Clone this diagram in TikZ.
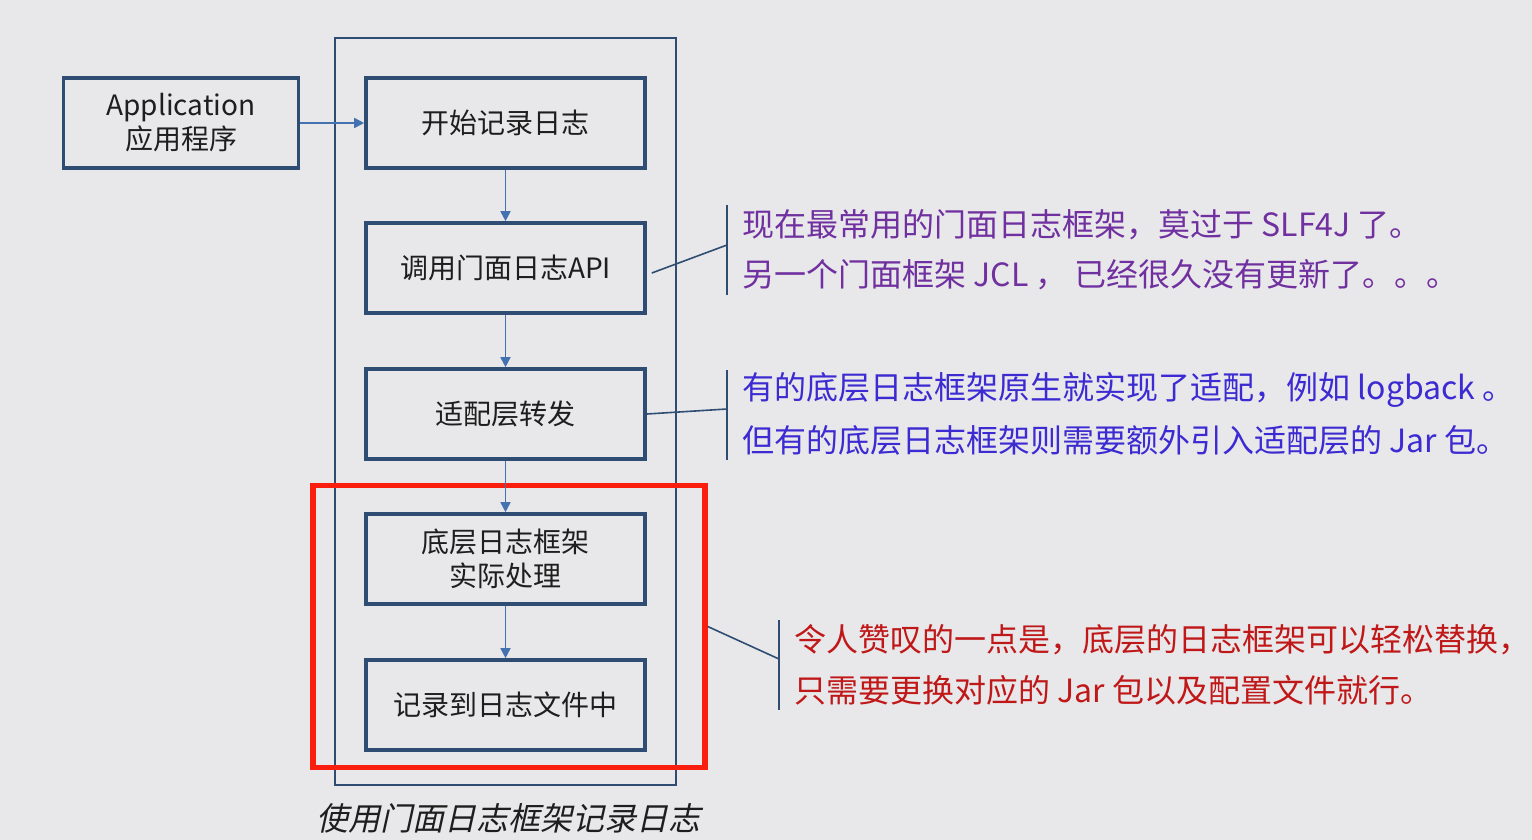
\documentclass[tikz,border=0pt]{standalone}
\usepackage{fontspec}
\setmainfont{Noto Sans CJK SC}
\newfontfamily\capfont[FakeSlant=0.22]{Noto Sans CJK SC}
\usetikzlibrary{arrows.meta}
\definecolor{bg}{HTML}{E8E8EA}
\definecolor{boxblue}{HTML}{2F4D73}
\definecolor{arrowblue}{HTML}{4472B0}
\definecolor{notepurple}{HTML}{7030A0}
\definecolor{noteblue}{HTML}{3C2AD2}
\definecolor{notered}{HTML}{C01818}
\definecolor{framered}{HTML}{FA1E0E}
\definecolor{ink}{HTML}{1E1E1E}

\begin{document}
\begin{tikzpicture}[x=0.5pt, y=-0.5pt,
    stepbox/.style={draw=boxblue, line width=1.8pt, minimum width=139.5pt, minimum height=45pt,
        inner sep=0pt, align=center, text=ink, font=\fontsize{14}{17}\selectfont},
    flow/.style={draw=arrowblue, line width=0.8pt, -{Triangle[length=5pt, width=5pt]}},
    brace/.style={draw=boxblue, line width=0.8pt},
    note/.style={anchor=west, inner sep=0pt, font=\fontsize{16}{20}\selectfont}]
    \fill[bg] (0,0) rectangle (1532,840);
    \useasboundingbox (0,0) rectangle (1532,840);

    % outer frame
    \node[draw=boxblue, line width=0.8pt, minimum width=170.5pt, minimum height=373.5pt] (frame) at (505.5,411.5) {};

    \node[stepbox, minimum width=117.5pt] (app) at (181,123) {Application\\应用程序};
    \node[stepbox] (s1) at (505.5,123) {开始记录日志};
    \node[stepbox] (s2) at (505.5,268) {调用门面日志API};
    \node[stepbox] (s3) at (505.5,414) {适配层转发};
    \node[stepbox] (s4) at (505.5,559) {底层日志框架\\实际处理};
    \node[stepbox] (s5) at (505.5,705) {记录到日志文件中};

    % highlight
    \node[draw=framered, line width=2.7pt, minimum width=196pt, minimum height=141pt] (focus) at (509,626.5) {};

    \draw[flow] (app) -- (s1);
    \foreach \a/\b in {s1/s2, s2/s3, s3/s4, s4/s5}
    \draw[flow] (\a) -- (\b);

    % notes
    \coordinate (b1t) at (727,205);
    \coordinate (b1b) at (727,295);
    \coordinate (b1m) at (727,245);
    \coordinate (b2t) at (727,370);
    \coordinate (b2b) at (727,460);
    \coordinate (b2m) at (727,409);
    \coordinate (b3t) at (779,620);
    \coordinate (b3b) at (779,710);
    \coordinate (b3m) at (779,659);
    \draw[brace] (b1t) -- (b1b);
    \draw[brace] ([xshift=2.5pt, yshift=-2.5pt]s2.east) -- (b1m);
    \draw[brace] (b2t) -- (b2b);
    \draw[brace] (s3.east) -- (b2m);
    \draw[brace] (b3t) -- (b3b);
    \draw[brace] (focus.east) -- (b3m);

    \node[note, text=notepurple] (n1a) at (742,225) {现在最常用的门面日志框架，莫过于 SLF4J 了。};
    \node[note, text=notepurple] (n1b) at (742,275) {另一个门面框架 JCL ， 已经很久没有更新了。。。};
    \node[note, text=noteblue] (n2a) at (742,390) {有的底层日志框架原生就实现了适配，例如 logback 。};
    \node[note, text=noteblue] (n2b) at (742,440) {但有的底层日志框架则需要额外引入适配层的 Jar 包。};
    \node[note, text=notered] (n3a) at (794,640) {令人赞叹的一点是，底层的日志框架可以轻松替换，};
    \node[note, text=notered] (n3b) at (794,690) {只需要更换对应的 Jar 包以及配置文件就行。};

    \node[text=ink, font=\capfont\fontsize{16}{20}\selectfont] (cap) at (508,818) {使用门面日志框架记录日志};
\end{tikzpicture}
\end{document}
